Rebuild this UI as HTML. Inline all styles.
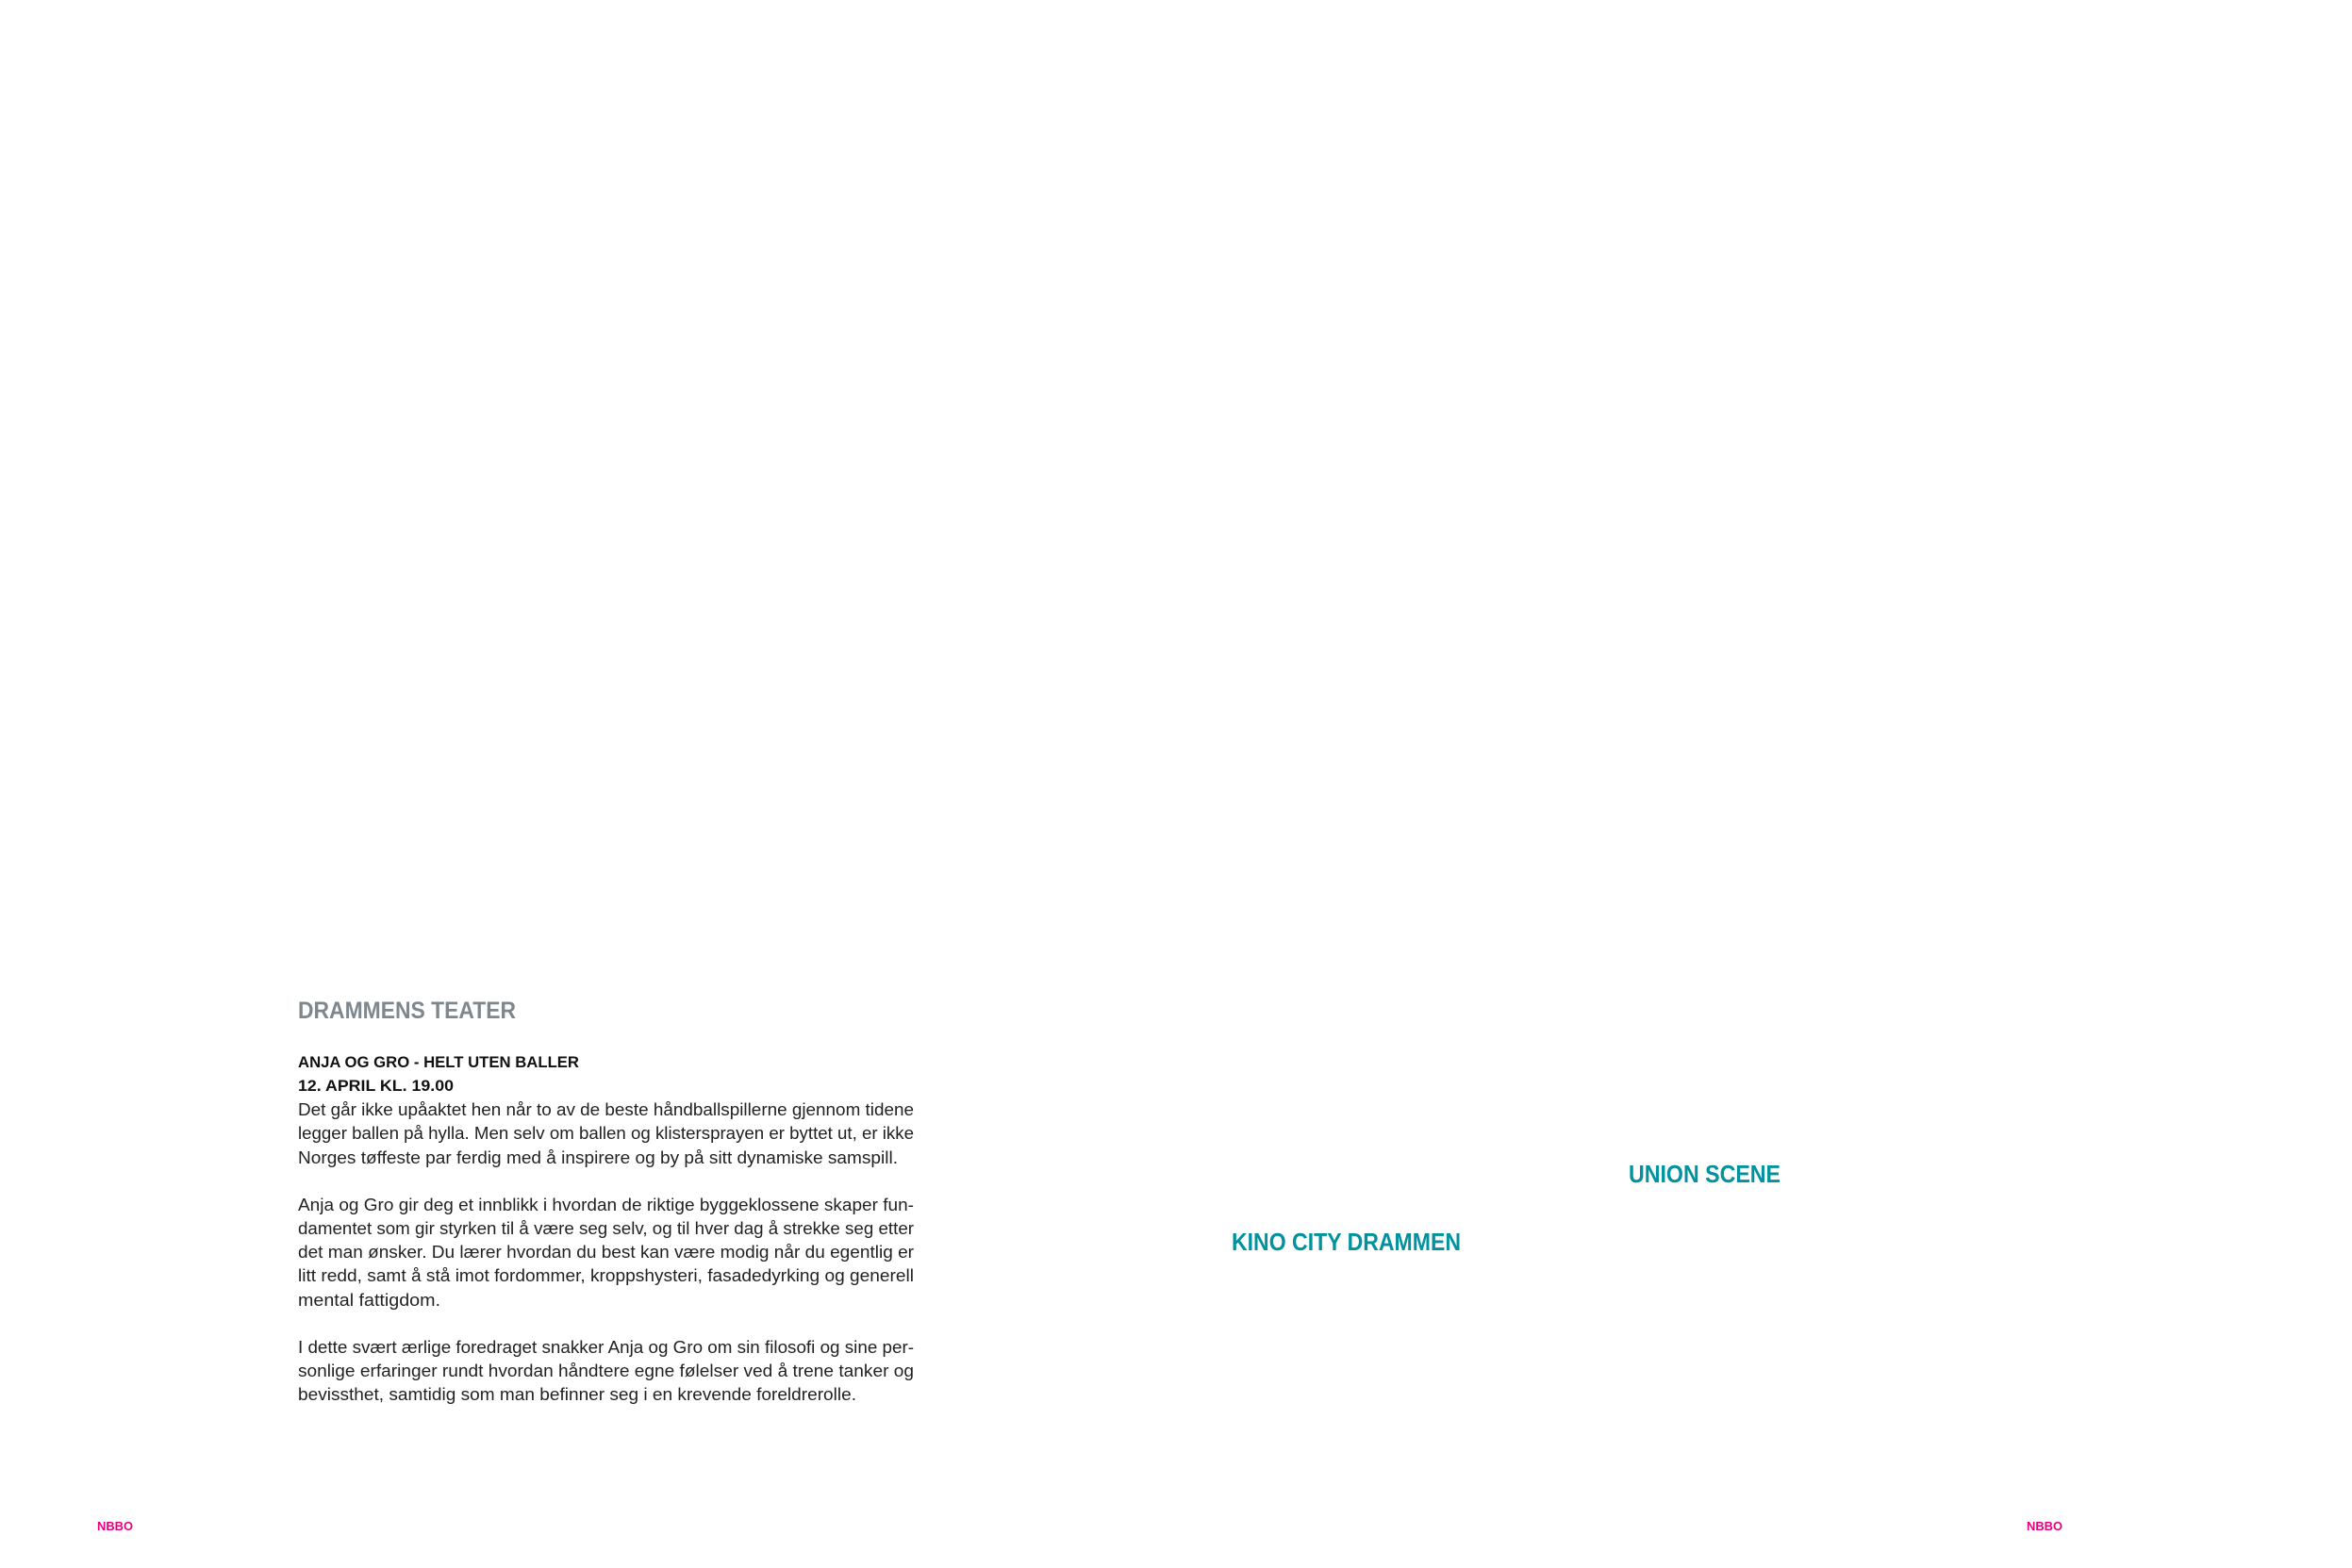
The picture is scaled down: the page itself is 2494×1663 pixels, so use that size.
<!DOCTYPE html>
<html><head><meta charset="utf-8"><style>
html,body{margin:0;padding:0;background:#fff;}
svg{display:block;}
</style></head><body>
<svg width="2494" height="1663" viewBox="0 0 2494 1663" xmlns="http://www.w3.org/2000/svg" font-family="Liberation Sans, sans-serif">
<rect width="2494" height="1663" fill="#fff"/>
<text x="316" y="1080" font-size="25" font-weight="bold" fill="#7d878d" textLength="231" lengthAdjust="spacingAndGlyphs">DRAMMENS TEATER</text>
<g font-size="17" font-weight="bold" fill="#111">
<text x="316" y="1132" textLength="298" lengthAdjust="spacingAndGlyphs">ANJA OG GRO - HELT UTEN BALLER</text>
<text x="316" y="1157" textLength="165" lengthAdjust="spacingAndGlyphs">12. APRIL KL. 19.00</text>
</g>
<g font-size="18" fill="#222">
<text x="316" y="1183" textLength="653" lengthAdjust="spacingAndGlyphs">Det går ikke upåaktet hen når to av de beste håndballspillerne gjennom tidene</text>
<text x="316" y="1208" textLength="653" lengthAdjust="spacingAndGlyphs">legger ballen på hylla. Men selv om ballen og klistersprayen er byttet ut, er ikke</text>
<text x="316" y="1234" textLength="636" lengthAdjust="spacingAndGlyphs">Norges tøffeste par ferdig med å inspirere og by på sitt dynamiske samspill.</text>
<text x="316" y="1284" textLength="653" lengthAdjust="spacingAndGlyphs">Anja og Gro gir deg et innblikk i hvordan de riktige byggeklossene skaper fun-</text>
<text x="316" y="1309" textLength="653" lengthAdjust="spacingAndGlyphs">damentet som gir styrken til å være seg selv, og til hver dag å strekke seg etter</text>
<text x="316" y="1334" textLength="653" lengthAdjust="spacingAndGlyphs">det man ønsker. Du lærer hvordan du best kan være modig når du egentlig er</text>
<text x="316" y="1359" textLength="653" lengthAdjust="spacingAndGlyphs">litt redd, samt å stå imot fordommer, kroppshysteri, fasadedyrking og generell</text>
<text x="316" y="1385" textLength="151" lengthAdjust="spacingAndGlyphs">mental fattigdom.</text>
<text x="316" y="1435" textLength="653" lengthAdjust="spacingAndGlyphs">I dette svært ærlige foredraget snakker Anja og Gro om sin filosofi og sine per-</text>
<text x="316" y="1460" textLength="653" lengthAdjust="spacingAndGlyphs">sonlige erfaringer rundt hvordan håndtere egne følelser ved å trene tanker og</text>
<text x="316" y="1485" textLength="592" lengthAdjust="spacingAndGlyphs">bevissthet, samtidig som man befinner seg i en krevende foreldrerolle.</text>
</g>
<g font-size="26" font-weight="bold" fill="#00929f">
<text x="1727" y="1254" textLength="161" lengthAdjust="spacingAndGlyphs">UNION SCENE</text>
<text x="1306" y="1326" textLength="243" lengthAdjust="spacingAndGlyphs">KINO CITY DRAMMEN</text>
</g>
<g font-size="13" font-weight="bold" fill="#e6007e">
<text x="103" y="1623" textLength="38" lengthAdjust="spacingAndGlyphs">NBBO</text>
<text x="2149" y="1623" textLength="38" lengthAdjust="spacingAndGlyphs">NBBO</text>
</g>
</svg>
</body></html>
